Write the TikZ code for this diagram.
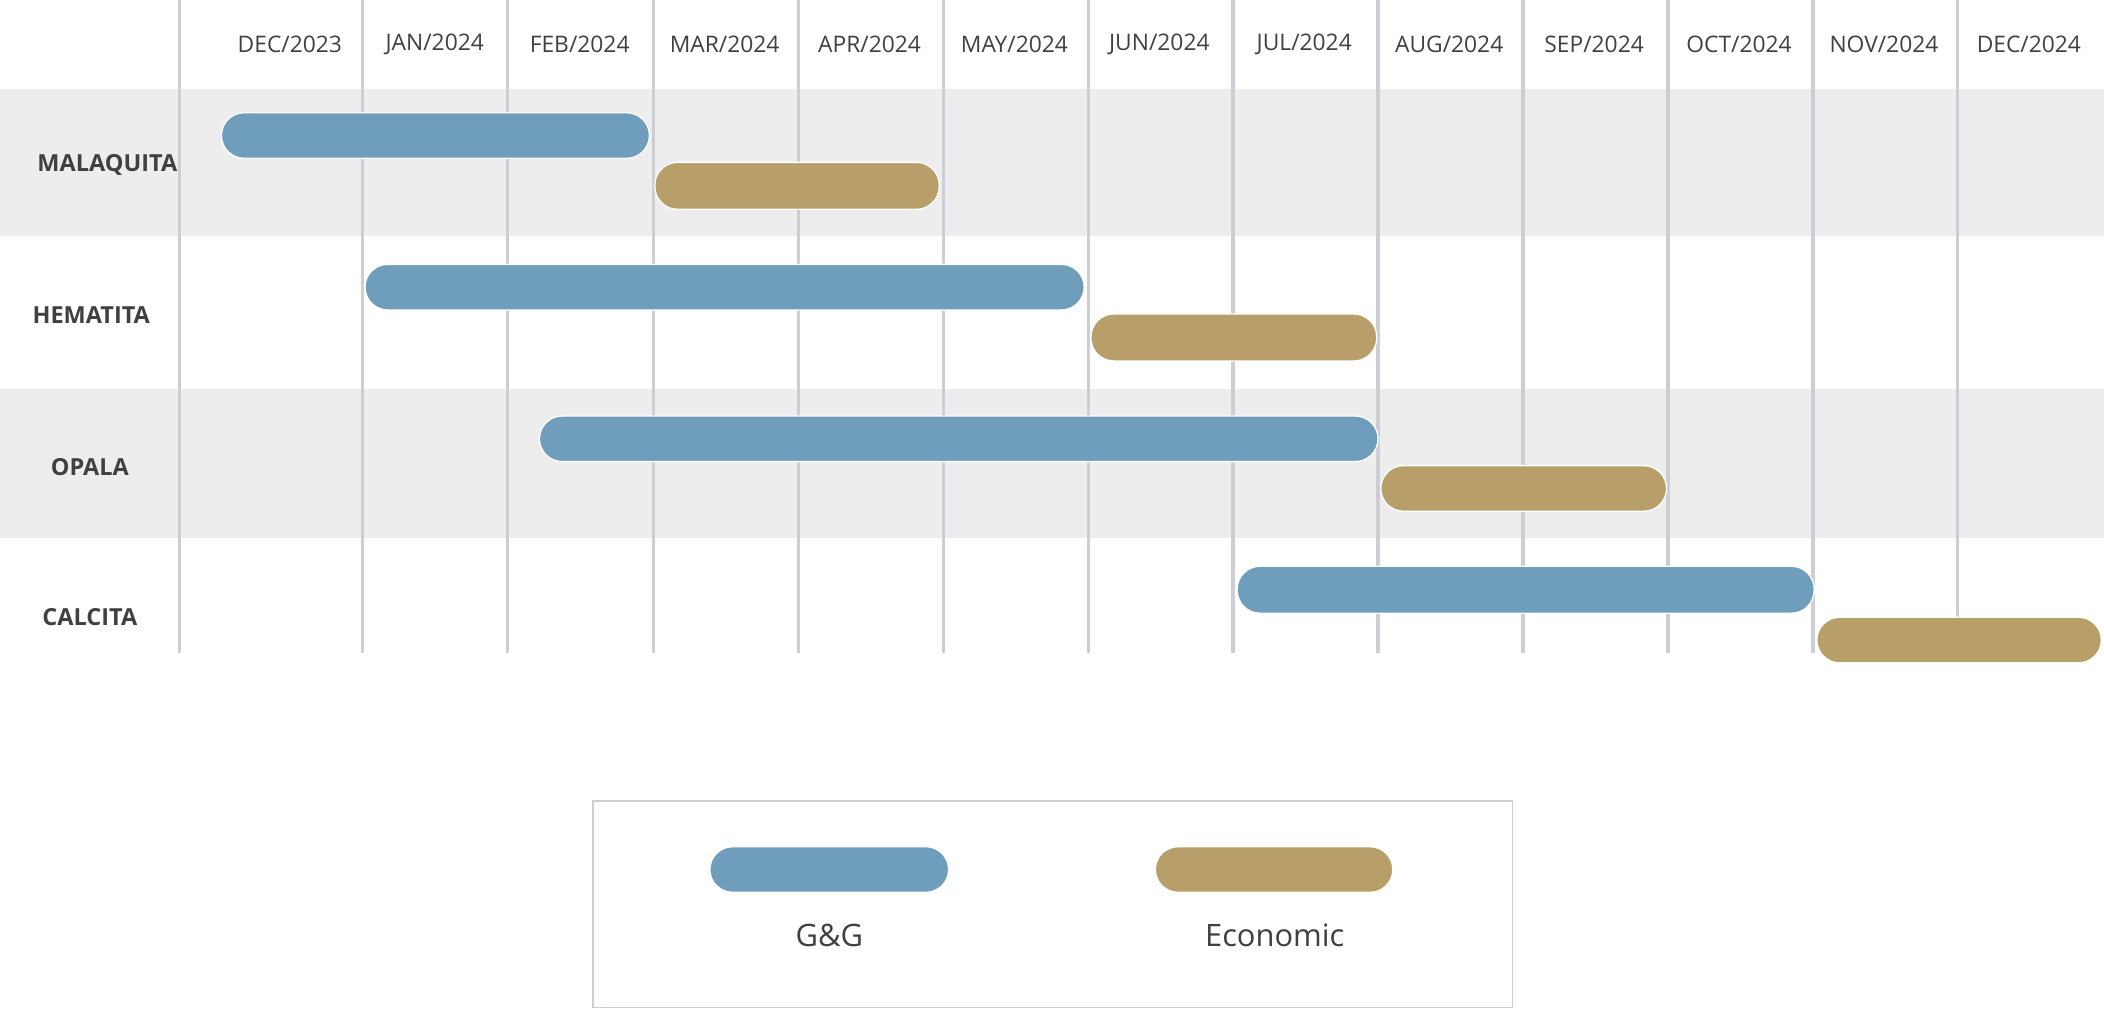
\documentclass[tikz,border=0pt]{standalone}
\usepackage{fontspec}
\setmainfont{Open Sans}
\definecolor{gg}{HTML}{6E9EBB}
\definecolor{eco}{HTML}{B89F69}
\definecolor{band}{HTML}{EDEDED}
\definecolor{grid}{HTML}{CDCDD3}
\definecolor{txt}{HTML}{404040}
\tikzset{
  bar/.style={rounded corners=17pt,draw=white,line width=1pt},
  ggbar/.style={bar,fill=gg},
  ecobar/.style={bar,fill=eco},
  month/.style={font=\fontsize{17}{20}\selectfont,text=txt},
  rowlab/.style={font=\bfseries\fontsize{17.5}{20}\selectfont,text=txt},
  leglab/.style={font=\fontsize{23}{28}\selectfont,text=txt},
}
\begin{document}
\begin{tikzpicture}[x=1pt,y=-1pt]
\useasboundingbox (0,0) rectangle (1568,752);
\fill[band] (0,66) rectangle (1568,176);
\fill[band] (0,290) rectangle (1568,401);
\foreach \x in {134,270,378,487,595,703,811,919,1027,1135,1243,1351,1459}
  \draw[grid,line width=2.5pt] (\x,0) -- (\x,487);
\foreach \m [count=\i from 0] in {DEC/2023,JAN/2024,FEB/2024,MAR/2024,APR/2024,MAY/2024,JUN/2024,JUL/2024,AUG/2024,SEP/2024,OCT/2024,NOV/2024,DEC/2024}
  \node[month] (m\i) at ({216+108*\i},33) {\m};
\node[rowlab] (r1) at (80,123) {MALAQUITA};
\node[rowlab] (r2) at (68,235) {HEMATITA};
\node[rowlab] (r3) at (67,348) {OPALA};
\node[rowlab] (r4) at (67,460) {CALCITA};
\draw[ggbar] (165,84) rectangle (484,118);
\draw[ecobar] (488,121) rectangle (700,156);
\draw[ggbar] (272,197) rectangle (808,231);
\draw[ecobar] (813,234) rectangle (1026,269);
\draw[ggbar] (402,310) rectangle (1027,344);
\draw[ecobar] (1029,347) rectangle (1242,381);
\draw[ggbar] (922,422) rectangle (1352,457);
\draw[ecobar] (1354,460) rectangle (1566,494);
\draw[grid,line width=1pt,fill=white] (442,597) rectangle (1127,751);
\draw[ggbar] (529,631) rectangle (707,665);
\draw[ecobar] (861,631) rectangle (1038,665);
\node[leglab] (l1) at (618,697) {G\&G};
\node[leglab] (l2) at (950,697) {Economic};
\end{tikzpicture}
\end{document}
